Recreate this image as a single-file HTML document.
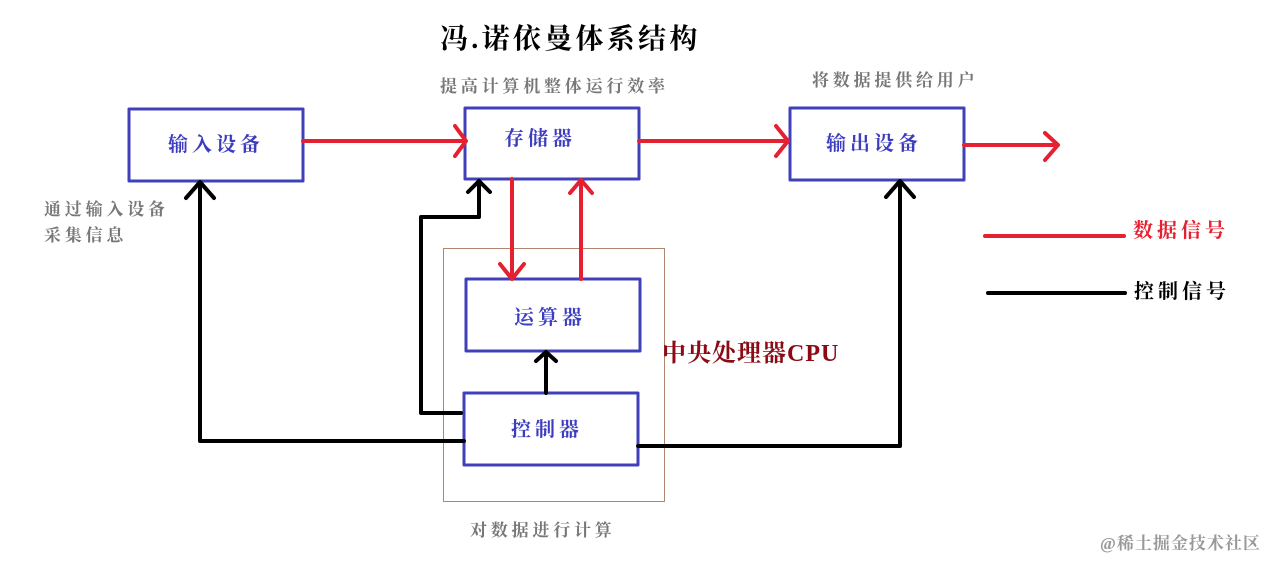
<!DOCTYPE html>
<html><head><meta charset="utf-8"><style>
html,body{margin:0;padding:0;background:#fff;width:1277px;height:569px;overflow:hidden}
svg{display:block}
text{font-family:"Liberation Serif","Noto Serif CJK SC","Noto Sans CJK SC",serif;font-weight:bold}
</style></head><body>
<svg width="1277" height="569" viewBox="0 0 1277 569" xmlns="http://www.w3.org/2000/svg">
<g fill="none" stroke-linecap="round" stroke-linejoin="round">
<rect x="443.5" y="248.5" width="221" height="253" stroke="#b08670" stroke-width="1"/>
<g stroke="#4040b8" stroke-width="3">
<rect x="129" y="109" width="174" height="72"/>
<rect x="465" y="108" width="174" height="71"/>
<rect x="790" y="108" width="174" height="72"/>
<rect x="466" y="279" width="174" height="72"/>
<rect x="464" y="393" width="174" height="72"/>
</g>
<g stroke="#e52030" stroke-width="4">
<path d="M303 141 H465 M455 126 L466 141 L455 156"/>
<path d="M639 141 H788 M776 126 L788 141 L776 156"/>
<path d="M964 145 H1058 M1045 133 L1058 145 L1045 160"/>
<path d="M512 179 V279 M500 264 L512 279 L524 264"/>
<path d="M581 279 V180 M570 193 L581 180 L592 193"/>
<path d="M985 236 H1124"/>
</g>
<g stroke="#000" stroke-width="4">
<path d="M464 441 H200 V182 M186 198 L200 182 L214 198"/>
<path d="M461 413 H421 V217 H479 V181 M468 192 L479 181 L490 192"/>
<path d="M546 393 V352 M536 361 L546 352 L556 361"/>
<path d="M638 446 H900 V181 M886 197 L900 181 L914 197"/>
<path d="M988 293 H1125"/>
</g>
</g>
<text x="440" y="48" font-size="28" fill="#000" letter-spacing="3.3">冯.诺依曼体系结构</text>
<g font-size="17" fill="#777" letter-spacing="3.8">
<text x="440" y="92">提高计算机整体运行效率</text>
<text x="812" y="86">将数据提供给用户</text>
<text x="44" y="215">通过输入设备</text>
<text x="44" y="241">采集信息</text>
<text x="470" y="536">对数据进行计算</text>
</g>
<g fill="#3c3cc0" font-size="20" letter-spacing="4">
<text x="168" y="151">输入设备</text>
<text x="504" y="145">存储器</text>
<text x="826" y="150">输出设备</text>
<text x="514" y="324">运算器</text>
<text x="511" y="436">控制器</text>
</g>
<text x="662" y="361" font-size="24" fill="#8b0a14" font-weight="normal" letter-spacing="1">中央处理器CPU</text>
<text x="1133" y="237" font-size="20" fill="#e52030" letter-spacing="4">数据信号</text>
<text x="1134" y="298" font-size="20" fill="#000" letter-spacing="4">控制信号</text>
<text x="1100" y="549" font-size="17" fill="#999" font-weight="normal" letter-spacing="1">@稀土掘金技术社区</text>
</svg>
</body></html>
